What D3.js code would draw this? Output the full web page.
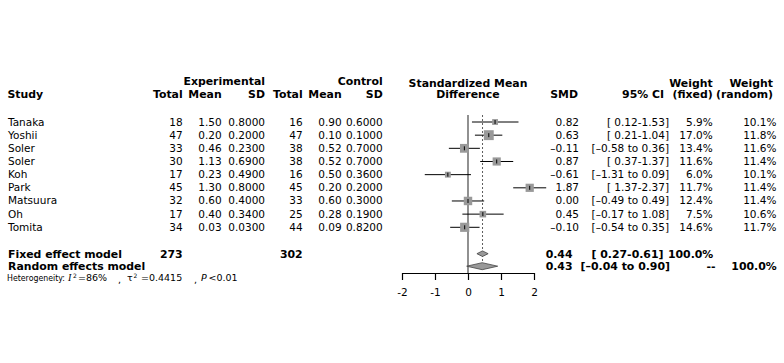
<!DOCTYPE html>
<html>
<head>
<meta charset="utf-8">
<script src="https://cdn.jsdelivr.net/npm/d3@7"></script>
<style>
  body { margin: 0; background: #fff; }
  svg text { font-family: "DejaVu Sans", Verdana, sans-serif; font-size: 10.5px; fill: #000; }
  .b text { font-weight: bold; font-size: 10.9px; }
  .het text { font-size: 9.5px; }
</style>
</head>
<body>
<div id="chart"></div>
<script>
// Study data
var studies = ["Tanaka", "Yoshii", "Soler", "Soler", "Koh", "Park", "Matsuura", "Oh", "Tomita"]
var expTotal = [18, 47, 33, 30, 17, 45, 32, 17, 34]
var expMean = [1.50, 0.20, 0.46, 1.13, 0.23, 1.30, 0.60, 0.40, 0.03]
var expSD = [0.8, 0.2, 0.23, 0.69, 0.49, 0.8, 0.4, 0.34, 0.03]
var ctlTotal = [16, 47, 38, 38, 16, 45, 33, 25, 44]
var ctlMean = [0.90, 0.10, 0.52, 0.52, 0.50, 0.20, 0.60, 0.28, 0.09]
var ctlSD = [0.6, 0.1, 0.7, 0.7, 0.36, 0.2, 0.3, 0.19, 0.82]
var smd = [0.82, 0.63, -0.11, 0.87, -0.61, 1.87, 0.00, 0.45, -0.10]
var ciLow = [0.12, 0.21, -0.58, 0.37, -1.31, 1.37, -0.49, -0.17, -0.54]
var ciHigh = [1.53, 1.04, 0.36, 1.37, 0.09, 2.37, 0.49, 1.08, 0.35]
var wFixed = [5.9, 17.0, 13.4, 11.6, 6.0, 11.7, 12.4, 7.5, 14.6]
var wRandom = [10.1, 11.8, 11.6, 11.4, 10.1, 11.4, 11.4, 10.6, 11.7]

// Pooled results
var fixedModel = { est: 0.44, lo: 0.27, hi: 0.61, nExp: 273, nCtl: 302 }
var randomModel = { est: 0.43, lo: -0.04, hi: 0.90 }
var axisTicks = [-2, -1, 0, 1, 2]

var width = 784, height = 363

var svg = d3.select("#chart").append("svg")
  .attr("width", width)
  .attr("height", height)

var x = d3.scaleLinear().domain([-2, 2]).range([402, 534])
var y = d3.scalePoint().domain(d3.range(studies.length)).range([122, 227.3])
var yFixed = 253.7, yRandom = 266.2, yAxis = 273

var f2 = d3.format(".2f"), f4 = d3.format(".4f"), f1 = d3.format(".1f")
var num = v => f2(v).replace("−", "–")
function ciText(lo, hi) {
  return lo < 0 ? `[${num(lo)} to ${num(hi)}]` : `[ ${num(lo)}-${num(hi)}]`
}

// Columns (right edges)
var col = { total: 182.7, mean: 221.7, sd: 265, cTotal: 302.7, cMean: 341.7, cSD: 382.7,
  smd: 579, ci: 669, wf: 712.7, wr: 776.5 }

// Headers
var hdr = svg.append("g").attr("class", "b")
function txt(g, xx, yy, s, anchor) {
  return g.append("text").attr("x", xx).attr("y", yy).attr("text-anchor", anchor || "end").text(s)
}
txt(hdr, 265, 85, "Experimental")
txt(hdr, 382.7, 85, "Control")
txt(hdr, 7.5, 98, "Study", "start")
txt(hdr, col.total, 98, "Total")
txt(hdr, col.mean, 98, "Mean")
txt(hdr, col.sd, 98, "SD")
txt(hdr, col.cTotal, 98, "Total")
txt(hdr, col.cMean, 98, "Mean")
txt(hdr, col.cSD, 98, "SD")
txt(hdr, x(0), 86.5, "Standardized Mean", "middle")
txt(hdr, x(0), 98, "Difference", "middle")
txt(hdr, 578, 98, "SMD")
txt(hdr, 664, 98, "95% CI")
txt(hdr, col.wf, 86.5, "Weight")
txt(hdr, col.wf, 98, "(fixed)")
txt(hdr, 773, 86.5, "Weight")
txt(hdr, 773, 98, "(random)")

// Study rows
var rows = svg.append("g")
studies.forEach(function(s, i) {
  var yy = y(i) + 3.5
  txt(rows, 8, yy, s, "start")
  txt(rows, col.total, yy, expTotal[i])
  txt(rows, col.mean, yy, f2(expMean[i]))
  txt(rows, col.sd, yy, f4(expSD[i]))
  txt(rows, col.cTotal, yy, ctlTotal[i])
  txt(rows, col.cMean, yy, f2(ctlMean[i]))
  txt(rows, col.cSD, yy, f4(ctlSD[i]))
  txt(rows, col.smd, yy, num(smd[i]))
  txt(rows, col.ci, yy, ciText(ciLow[i], ciHigh[i]))
  txt(rows, col.wf, yy, f1(wFixed[i]) + "%")
  txt(rows, col.wr, yy, f1(wRandom[i]) + "%")
})

// Summary rows
var sum = svg.append("g").attr("class", "b")
var bf = 257.5, br = 269.5
txt(sum, 8, bf, "Fixed effect model", "start")
txt(sum, col.total, bf, fixedModel.nExp)
txt(sum, col.cTotal, bf, fixedModel.nCtl)
txt(sum, 572.5, bf, num(fixedModel.est))
txt(sum, 663.5, bf, ciText(fixedModel.lo, fixedModel.hi))
txt(sum, 713.3, bf, "100.0%")
txt(sum, 8, br, "Random effects model", "start")
txt(sum, 572.5, br, num(randomModel.est))
txt(sum, 670, br, ciText(randomModel.lo, randomModel.hi))
txt(sum, 711, br, "--", "middle")
txt(sum, 776.7, br, "100.0%")

// Heterogeneity line
var het = svg.append("g").attr("class", "het")
var hy = 281
function htxt(xx, yy, s, style) {
  var t = het.append("text").attr("x", xx).attr("y", yy).text(s)
  if (style) Object.entries(style).forEach(([k, v]) => t.style(k, v))
  return t
}
htxt(7, hy, "Heterogeneity:").attr("textLength", 58).attr("lengthAdjust", "spacingAndGlyphs")
htxt(68, hy, "I", { "font-style": "italic", "font-family": "Liberation Serif, serif", "font-size": "10px" })
htxt(73, hy - 3.5, "2", { "font-size": "6px" })
htxt(78, hy, "=86%")
htxt(118, hy + 1.5, ",")
htxt(127, hy, "τ")
htxt(133.5, hy - 3.5, "2", { "font-size": "6px" })
htxt(141, hy, " =0.4415")
htxt(194, hy + 1.5, ",")
htxt(201, hy, "P", { "font-style": "italic" })
htxt(208.5, hy, "<0.01")

// Forest plot
var plot = svg.append("g")
plot.append("line")
  .attr("x1", x(0)).attr("x2", x(0))
  .attr("y1", 115).attr("y2", yAxis)
  .attr("stroke", "#555").attr("stroke-width", 1.3)
plot.append("line")
  .attr("x1", x(fixedModel.est)).attr("x2", x(fixedModel.est))
  .attr("y1", 115).attr("y2", yRandom - 3)
  .attr("stroke", "#333").attr("stroke-width", 0.8)
  .attr("stroke-dasharray", "2,2")

var marks = plot.selectAll(".study").data(studies).enter().append("g")
marks.append("line")
  .attr("x1", (d, i) => x(ciLow[i])).attr("x2", (d, i) => x(ciHigh[i]))
  .attr("y1", (d, i) => y(i)).attr("y2", (d, i) => y(i))
  .attr("stroke", "#000").attr("stroke-width", 1)
marks.append("rect")
  .attr("x", (d, i) => x(smd[i]) - 1.2 * Math.sqrt(wFixed[i]))
  .attr("y", (d, i) => y(i) - 1.2 * Math.sqrt(wFixed[i]))
  .attr("width", (d, i) => 2.4 * Math.sqrt(wFixed[i]))
  .attr("height", (d, i) => 2.4 * Math.sqrt(wFixed[i]))
  .attr("fill", "#999")
marks.append("line")
  .attr("x1", (d, i) => x(smd[i])).attr("x2", (d, i) => x(smd[i]))
  .attr("y1", (d, i) => y(i) - 2).attr("y2", (d, i) => y(i) + 2)
  .attr("stroke", "#000").attr("stroke-width", 1)

function diamond(m, yy, h) {
  return `M${x(m.lo)},${yy} L${x(m.est)},${yy - h} L${x(m.hi)},${yy} L${x(m.est)},${yy + h} Z`
}
plot.append("path").attr("d", diamond(fixedModel, yFixed, 2.8))
  .attr("fill", "#999").attr("stroke", "#444").attr("stroke-width", 0.8)
plot.append("path").attr("d", diamond(randomModel, yRandom, 3.5))
  .attr("fill", "#999").attr("stroke", "#444").attr("stroke-width", 0.8)

var axis = d3.axisBottom(x).tickValues(axisTicks).tickFormat(d => String(d))
  .tickSize(7).tickSizeOuter(0).tickPadding(9)
var ag = plot.append("g").attr("transform", `translate(0,${yAxis})`).call(axis)
ag.selectAll("text").style("font-size", "10.5px").attr("fill", "#000")
ag.selectAll("path, line").attr("stroke", "#000").attr("stroke-width", 1.2)
</script>
</body>
</html>
